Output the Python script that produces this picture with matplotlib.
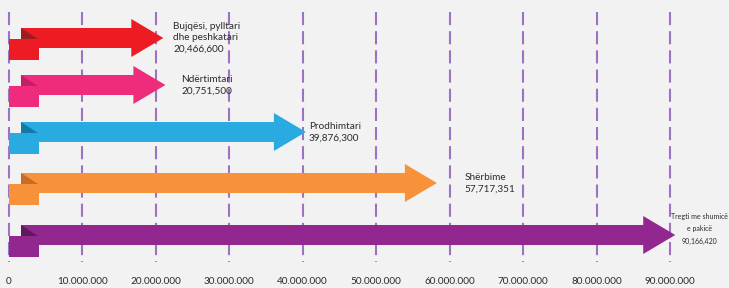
import matplotlib.pyplot as plt
from matplotlib.patches import Polygon, Rectangle

plt.rcParams['font.family'] = ['Lato', 'DejaVu Sans']

sectors = ['Bujqësi, pylltari\ndhe peshkatari', 'Ndërtimtari', 'Prodhimtari',
           'Shërbime', 'Tregti me shumicë\ne pakicë']
values = [20466600, 20751500, 39876300, 57717351, 90166420]
value_labels = ['20,466,600', '20,751,500', '39,876,300', '57,717,351', '90,166,420']
ticks = [0, 10000000, 20000000, 30000000, 40000000, 50000000,
         60000000, 70000000, 80000000, 90000000]
tick_labels = ['0', '10.000.000', '20.000.000', '30.000.000', '40.000.000',
               '50.000.000', '60.000.000', '70.000.000', '80.000.000', '90.000.000']

colors = ['#ED1C24', '#EE2C7B', '#29ABE2', '#F7923A', '#92278F']
dark = ['#9E1B20', '#C41F66', '#0E7CA8', '#C96A28', '#5F1A5D']
centers = [38, 85, 132, 183, 235]          # arrow centre lines, px from top
label_off = [14, 20, 7, 32, 28]            # label offset from value, px
label_size = [7.2, 7.2, 7.2, 7.2, 5.0]

W, H = 729, 288
x0 = 9                                     # pixel of zero
s = (670 - x0) / 90e6                      # pixels per unit

fig = plt.figure(figsize=(W / 100, H / 100), dpi=100)
fig.patch.set_facecolor('#F2F2F2')
ax = fig.add_axes([0, 0, 1, 1])
ax.set_facecolor('#F2F2F2')
ax.set_xlim(-x0 / s, (W - x0) / s)
ax.set_ylim(H, 0)
ax.axis('off')

def px(p):
    return p / s

# dashed grid
for t, lab in zip(ticks, tick_labels):
    ax.plot([t, t], [12, 262], color='#9C72C2', lw=1.5,
            dashes=(6.3, 2.9), zorder=1)
    ax.text(t, 282, lab, ha='center', va='center',
            fontsize=7.2, color='#2b2b2b')

shaft_h = 10
head_h = 19
head_len = px(32)
start = px(21 - x0)

for i, v in enumerate(values):
    cy = centers[i]
    tip = v + px(4)
    base = tip - head_len
    ax.add_patch(Rectangle((0, cy + 1), px(30), 21, color=colors[i], lw=0, zorder=2))
    pts = [(start, cy - shaft_h), (base, cy - shaft_h), (base, cy - head_h),
           (tip, cy), (base, cy + head_h), (base, cy + shaft_h),
           (start, cy + shaft_h)]
    ax.add_patch(Polygon(pts, closed=True, color=colors[i], lw=0, zorder=3))
    ax.add_patch(Polygon([(start, cy - shaft_h), (start + px(17), cy + 1),
                          (start, cy + 1)], closed=True, color=dark[i], lw=0, zorder=4))
    txt = sectors[i] + '\n' + value_labels[i]
    if i == 4:
        ax.text(v + px(label_off[i]), 229, txt, ha='center', va='center',
                fontsize=label_size[i], color='#2b2b2b', linespacing=1.9, zorder=5)
    else:
        ax.text(v + px(label_off[i]), cy, txt, ha='left', va='center',
                fontsize=label_size[i], color='#2b2b2b', linespacing=1.35, zorder=5)

fig.savefig('out.png', dpi=100, facecolor=fig.get_facecolor())
